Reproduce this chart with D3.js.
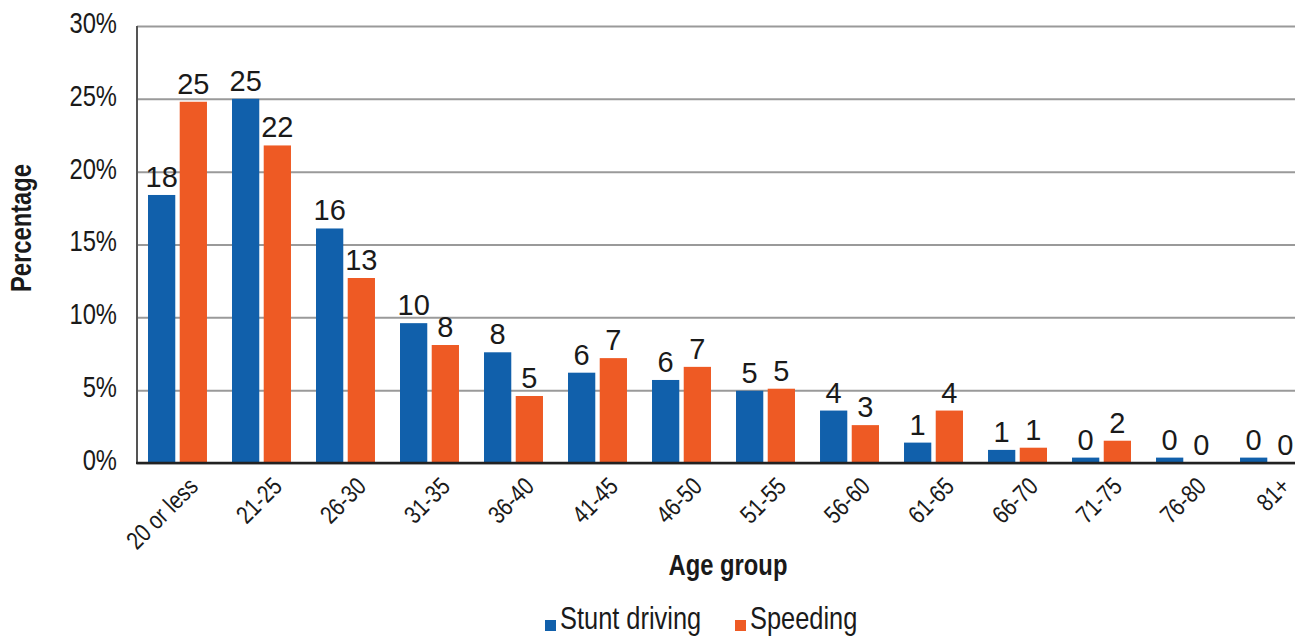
<!DOCTYPE html>
<html>
<head>
<meta charset="utf-8">
<script src="https://cdn.jsdelivr.net/npm/d3@7"></script>
<style>
  html, body { margin: 0; padding: 0; background: #fff; }
  svg { display: block; }
  text { font-family: "Liberation Sans", Arial, sans-serif; fill: #1a1a1a; }
</style>
</head>
<body>
<svg id="chart" width="1295" height="636"></svg>
<script>
// Share of offences by driver age group (percent)
const ageGroups = ["20 or less", "21-25", "26-30", "31-35", "36-40", "41-45", "46-50",
                   "51-55", "56-60", "61-65", "66-70", "71-75", "76-80", "81+"];
const seriesNames = ["Stunt driving", "Speeding"];
const stuntDriving = [18.4, 25.0, 16.1, 9.6, 7.6, 6.2, 5.7, 4.96, 3.6, 1.4, 0.9, 0.37, 0.37, 0.37];
const speeding     = [24.8, 21.8, 12.7, 8.1, 4.6, 7.2, 6.6, 5.1, 2.6, 3.6, 1.05, 1.53, 0, 0];
const yTicks = [0, 5, 10, 15, 20, 25, 30];
const colors = ["#1160AB", "#EE5A24"];

// Condensed lettering: horizontal squeeze along the text baseline
const SQUEEZE = 0.82;
const narrow = (x, y, angle = 0) =>
  `translate(${x},${y}) rotate(${angle}) scale(${SQUEEZE},1)`;

const svg = d3.select("#chart");
const plot = { left: 137, top: 26, bottom: 463, right: 1310 };

const x0 = d3.scaleBand()
  .domain(ageGroups)
  .range([plot.left, plot.right])
  .paddingInner(0.298)
  .paddingOuter(0.131);

const x1 = d3.scaleBand()
  .domain(seriesNames)
  .range([0, x0.bandwidth()])
  .paddingInner(0.14);

const y = d3.scaleLinear().domain([0, 30]).range([plot.bottom, plot.top]);
const color = d3.scaleOrdinal().domain(seriesNames).range(colors);

// Horizontal gridlines
const yAxis = svg.append("g")
  .attr("transform", `translate(${plot.left},0)`)
  .call(d3.axisLeft(y).tickValues(yTicks).tickFormat("")
        .tickSize(-(1295 - plot.left)));
yAxis.select(".domain").remove();
yAxis.selectAll(".tick line").attr("stroke", "#9a9a9a").attr("stroke-width", 2);

// Percentage tick labels
svg.append("g").selectAll("text")
  .data(yTicks)
  .join("text")
  .attr("transform", d => narrow(117, y(d)))
  .attr("dy", "0.24em")
  .attr("text-anchor", "end")
  .attr("font-size", 29)
  .text(d => d + "%");

// Left axis line
svg.append("line")
  .attr("x1", plot.left).attr("x2", plot.left)
  .attr("y1", plot.top).attr("y2", plot.bottom)
  .attr("stroke", "#555").attr("stroke-width", 2);

const rows = ageGroups.map((g, i) => ({
  group: g,
  values: [
    { series: seriesNames[0], value: stuntDriving[i] },
    { series: seriesNames[1], value: speeding[i] }
  ]
}));

const groups = svg.append("g").selectAll("g")
  .data(rows)
  .join("g")
  .attr("transform", d => `translate(${x0(d.group)},0)`);

groups.selectAll("rect")
  .data(d => d.values)
  .join("rect")
  .attr("x", d => x1(d.series))
  .attr("width", x1.bandwidth())
  .attr("y", d => y(d.value))
  .attr("height", d => y(0) - y(d.value))
  .attr("fill", d => color(d.series));

// Value labels, rounded to whole percent
groups.selectAll("text")
  .data(d => d.values)
  .join("text")
  .attr("x", d => x1(d.series) + x1.bandwidth() / 2)
  .attr("y", d => y(d.value) - 8)
  .attr("text-anchor", "middle")
  .attr("font-size", 29)
  .text(d => d3.format(".0f")(d.value));

// Baseline
svg.append("line")
  .attr("x1", plot.left - 1).attr("x2", 1295)
  .attr("y1", plot.bottom).attr("y2", plot.bottom)
  .attr("stroke", "#222").attr("stroke-width", 2.5);

// Rotated age-group labels
svg.append("g").selectAll("text")
  .data(ageGroups)
  .join("text")
  .attr("font-size", 25)
  .attr("text-anchor", "end")
  .attr("transform", d => narrow(x0(d) + x0.bandwidth() / 2 + 22, 488, -45))
  .text(d => d);

// Axis titles
svg.append("text")
  .attr("font-size", 29)
  .attr("font-weight", "bold")
  .attr("text-anchor", "middle")
  .attr("transform", narrow(31, 228, -90))
  .text("Percentage");

svg.append("text")
  .attr("font-size", 29)
  .attr("font-weight", "bold")
  .attr("text-anchor", "middle")
  .attr("transform", narrow(728, 575))
  .text("Age group");

// Legend
const legendX = [545, 735];
const legend = svg.append("g").selectAll("g")
  .data(seriesNames)
  .join("g")
  .attr("transform", (d, i) => `translate(${legendX[i]},0)`);
legend.append("rect")
  .attr("x", 0).attr("y", 620)
  .attr("width", 11).attr("height", 11)
  .attr("fill", d => color(d));
legend.append("text")
  .attr("transform", narrow(15, 629))
  .attr("font-size", 31)
  .text(d => d);
</script>
</body>
</html>
